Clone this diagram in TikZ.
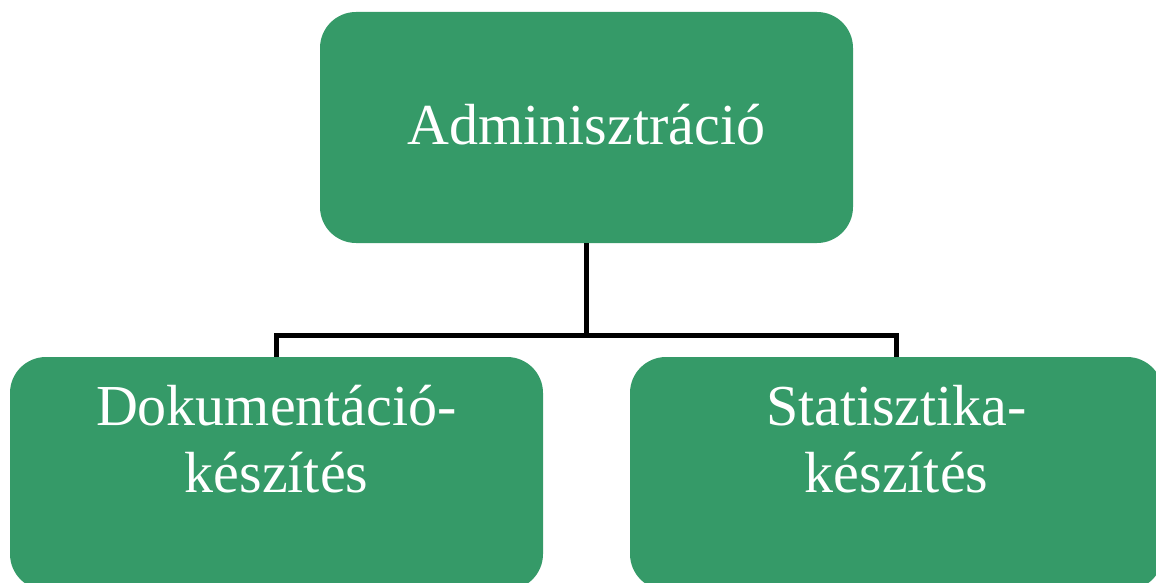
\documentclass[tikz,border=0pt]{standalone}
\usepackage{fontspec}
\setmainfont{Liberation Serif}
\definecolor{boxgreen}{RGB}{53,154,104}
\begin{document}
\begin{tikzpicture}[x=1pt,y=1pt,
  box/.style={fill=boxgreen, draw=none, rounded corners=36pt, minimum width=533pt, inner sep=0pt},
  lbl/.style={text=white, font=\fontsize{58}{67}\selectfont, align=center, inner sep=0pt},
  conn/.style={draw=black, line width=5.5pt}]
\useasboundingbox (0,0) rectangle (1156,582);
\clip (0,0) rectangle (1156,582);
\node[box, minimum height=231pt] (top) at (586.5,454.5) {};
\node[box, minimum height=233pt] (left) at (276.5,108.5) {};
\node[box, minimum height=233pt] (right) at (896.5,108.5) {};
\coordinate (bar) at (586.5,246.5);
\draw[conn] (top.south) -- (bar);
\draw[conn] (left.north) -- (left.north |- bar) -- (right.north |- bar) -- (right.north);
\node[lbl, anchor=base] (ttop) at (586.5,437) {Adminisztráció};
\node[lbl, anchor=base] (tleft) at (276.5,90) {Dokumentáció-\\készítés};
\node[lbl, anchor=base] (tright) at (896.5,90) {Statisztika-\\készítés};
\end{tikzpicture}
\end{document}
